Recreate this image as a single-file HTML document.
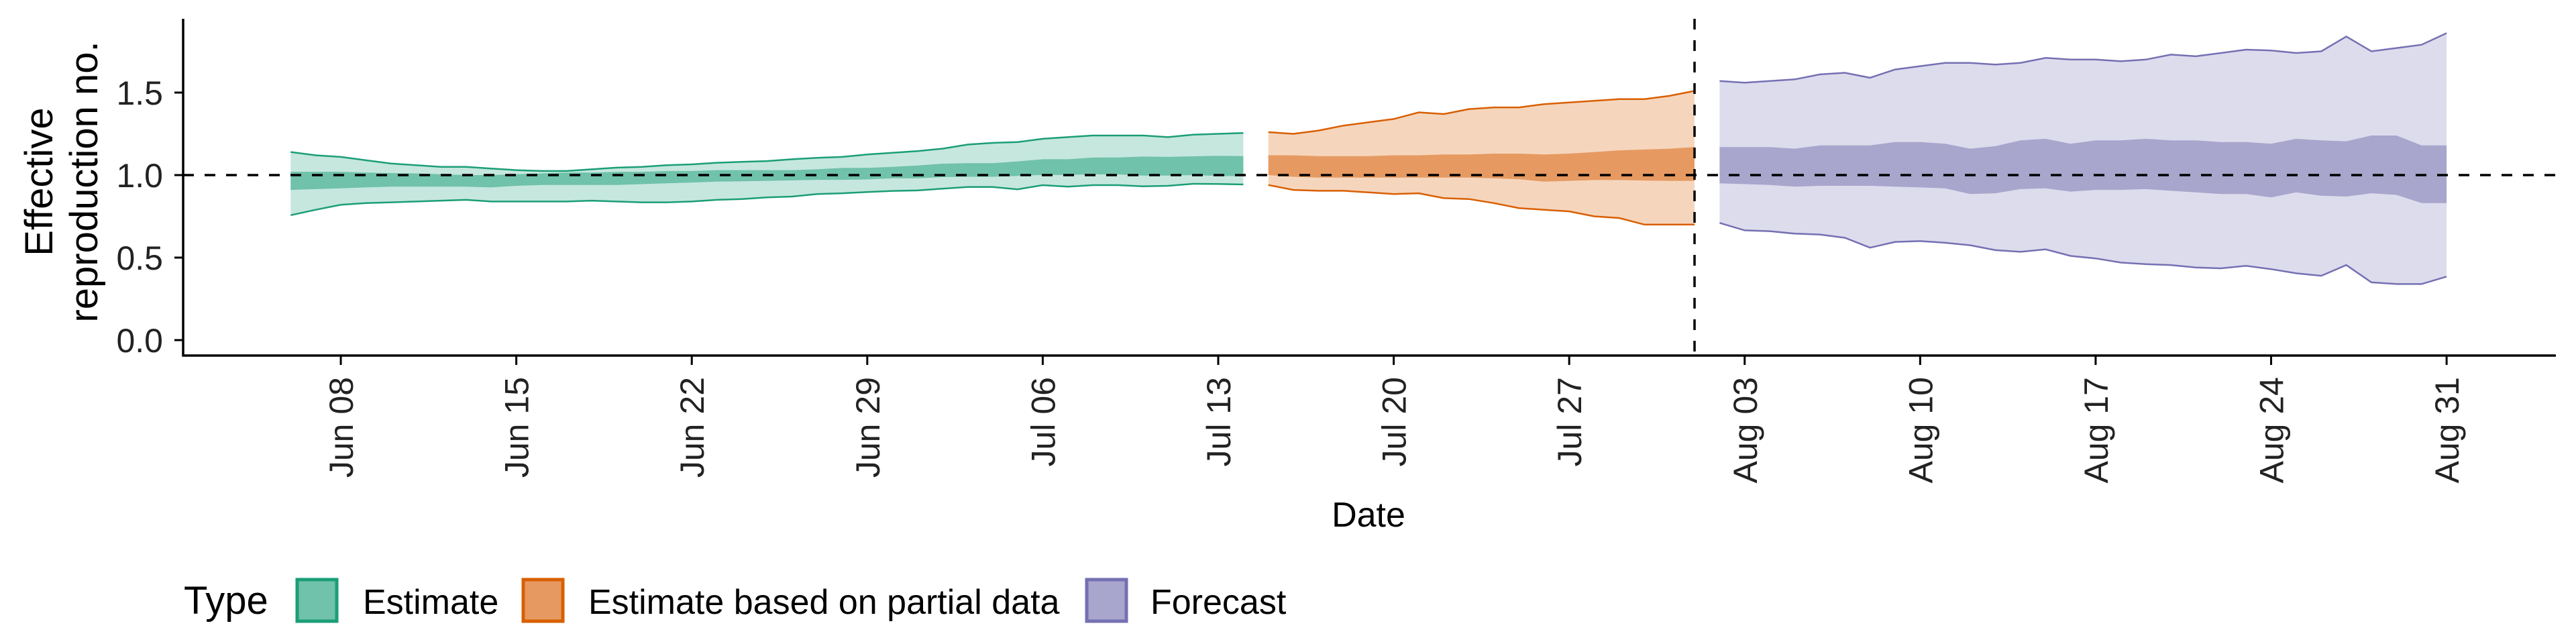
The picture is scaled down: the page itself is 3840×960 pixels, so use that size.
<!DOCTYPE html>
<html><head><meta charset="utf-8"><style>
html,body{margin:0;padding:0;background:#fff;}
svg{display:block;font-family:"Liberation Sans",Arial,sans-serif;}
</style></head><body>
<svg id="chart" width="3840" height="960" viewBox="0 0 3840 960" xmlns="http://www.w3.org/2000/svg">
<g id="bands"></g>
<g id="axes"></g>
<g font-size="58" fill="#000">
<text transform="translate(78,271) rotate(-90)" text-anchor="middle">Effective</text>
<text transform="translate(145,271) rotate(-90)" text-anchor="middle">reproduction no.</text>
</g>
<text x="2040" y="785" font-size="52" text-anchor="middle">Date</text>
<g font-size="52">
<text x="274" y="915" font-size="58">Type</text>
<g>
<rect x="443" y="864" width="59" height="62" fill="#70c2aa" stroke="#1b9e77" stroke-width="5"/>
<text x="541" y="915">Estimate</text></g>
<g>
<rect x="780" y="864" width="59" height="62" fill="#e69a61" stroke="#d95f02" stroke-width="5"/>
<text x="877" y="915">Estimate based on partial data</text></g>
<g>
<rect x="1620" y="864" width="59" height="62" fill="#a8a6cc" stroke="#7570b3" stroke-width="5"/>
<text x="1715" y="915">Forecast</text></g>
</g>
</svg>
<script>
// Day index 0 = Jun 06
const estStart = 0;
const estLo90 = [0.757,0.79,0.82,0.83,0.835,0.84,0.845,0.85,0.84,0.84,0.84,0.84,0.845,0.84,0.835,0.835,0.84,0.85,0.855,0.865,0.87,0.885,0.89,0.897,0.904,0.907,0.918,0.928,0.928,0.914,0.939,0.93,0.939,0.939,0.932,0.935,0.947,0.946,0.943];
const estHi90 = [1.14,1.12,1.11,1.09,1.07,1.06,1.05,1.05,1.04,1.03,1.025,1.025,1.035,1.045,1.05,1.06,1.065,1.075,1.08,1.085,1.096,1.105,1.11,1.125,1.135,1.145,1.16,1.185,1.195,1.2,1.22,1.23,1.24,1.24,1.24,1.23,1.245,1.25,1.255];
const estLo50 = [0.91,0.915,0.92,0.925,0.93,0.93,0.93,0.93,0.925,0.935,0.94,0.94,0.94,0.94,0.945,0.95,0.955,0.96,0.962,0.965,0.968,0.971,0.971,0.974,0.98,0.98,0.988,0.99,0.99,0.995,1.001,1.001,1.004,1.004,0.997,0.997,1.0,0.995,0.993];
const estHi50 = [1.02,1.02,1.02,1.015,1.012,1.01,1.005,1.0,1.0,1.005,1.01,1.015,1.015,1.02,1.02,1.025,1.025,1.03,1.03,1.03,1.03,1.035,1.044,1.044,1.05,1.058,1.069,1.072,1.072,1.083,1.096,1.096,1.106,1.107,1.112,1.11,1.114,1.117,1.115];
const partStart = 39;
const partLo90 = [0.94,0.91,0.905,0.905,0.895,0.885,0.89,0.86,0.855,0.83,0.80,0.79,0.78,0.75,0.74,0.70,0.70,0.70];
const partHi90 = [1.26,1.25,1.27,1.30,1.32,1.34,1.38,1.37,1.40,1.41,1.41,1.43,1.44,1.45,1.46,1.46,1.48,1.51];
const partLo50 = [1.0,0.99,0.985,0.985,0.985,0.985,0.985,0.985,0.985,0.98,0.975,0.96,0.965,0.97,0.97,0.967,0.965,0.965];
const partHi50 = [1.12,1.12,1.115,1.115,1.115,1.12,1.12,1.125,1.125,1.13,1.13,1.125,1.13,1.14,1.15,1.155,1.16,1.17];
const fcStart = 57;
const fcLo90 = [0.71,0.665,0.66,0.645,0.64,0.62,0.56,0.595,0.60,0.59,0.575,0.545,0.535,0.55,0.51,0.495,0.47,0.46,0.455,0.44,0.435,0.45,0.43,0.405,0.39,0.455,0.35,0.34,0.34,0.385];
const fcHi90 = [1.57,1.56,1.57,1.58,1.61,1.62,1.59,1.64,1.66,1.68,1.68,1.67,1.68,1.71,1.70,1.70,1.69,1.70,1.73,1.72,1.74,1.76,1.755,1.74,1.75,1.84,1.75,1.77,1.79,1.86];
const fcLo50 = [0.95,0.945,0.94,0.93,0.935,0.935,0.935,0.93,0.925,0.92,0.885,0.89,0.915,0.92,0.90,0.91,0.91,0.915,0.905,0.895,0.885,0.885,0.865,0.895,0.875,0.87,0.89,0.88,0.83,0.83];
const fcHi50 = [1.17,1.17,1.17,1.16,1.18,1.18,1.18,1.20,1.20,1.19,1.16,1.175,1.21,1.22,1.19,1.21,1.21,1.22,1.21,1.21,1.20,1.20,1.19,1.22,1.21,1.205,1.24,1.24,1.18,1.18];
const yTicks = [0.0,0.5,1.0,1.5];
const yTickLabels = ["0.0","0.5","1.0","1.5"];
const xTickDays = [2,9,16,23,30,37,44,51,58,65,72,79,86];
const xTickLabels = ["Jun 08","Jun 15","Jun 22","Jun 29","Jul 06","Jul 13","Jul 20","Jul 27","Aug 03","Aug 10","Aug 17","Aug 24","Aug 31"];
const refValue = 1.0;
const forecastDateDay = 56;

const NS = "http://www.w3.org/2000/svg";
const X0 = 273, X1 = 3810, YB = 530, YT = 28;
function xs(d){ return 433.3 + d * 37.37; }
function ys(v){ return 507 - 246 * v; }
function mk(tag, attrs, parent){ const e = document.createElementNS(NS, tag); for (const k in attrs) e.setAttribute(k, attrs[k]); parent.appendChild(e); return e; }
const bands = document.getElementById('bands');
const axes = document.getElementById('axes');

function drawBand(start, lo, hi, fill, name, stroke){
  let up = [], dn = [];
  for (let i = 0; i < lo.length; i++){ up.push(xs(start+i).toFixed(1)+','+ys(hi[i]).toFixed(1)); dn.push(xs(start+i).toFixed(1)+','+ys(lo[i]).toFixed(1)); }
  const p = mk('polygon', {points: up.concat(dn.slice().reverse()).join(' '), fill: fill}, bands);
  
  
  if (stroke){
    const l1 = mk('polyline', {points: up.join(' '), fill: 'none', stroke: stroke, 'stroke-width': 2.5}, bands);
    
    
    const l2 = mk('polyline', {points: dn.join(' '), fill: 'none', stroke: stroke, 'stroke-width': 2.5}, bands);
    
    
  }
}
drawBand(estStart, estLo90, estHi90, '#c6e7de', 'estimate-90-band', '#1b9e77');
drawBand(estStart, estLo50, estHi50, '#70c2aa', 'estimate-50-band');
drawBand(partStart, partLo90, partHi90, '#f5d6bd', 'partial-90-band', '#d95f02');
drawBand(partStart, partLo50, partHi50, '#e69a61', 'partial-50-band');
drawBand(fcStart, fcLo90, fcHi90, '#dddced', 'forecast-90-band', '#7570b3');
drawBand(fcStart, fcLo50, fcHi50, '#a8a6cc', 'forecast-50-band');

const hl = mk('line', {x1: X0, x2: X1, y1: ys(refValue), y2: ys(refValue), stroke: '#000', 'stroke-width': 3.5, 'stroke-dasharray': '16 16'}, axes);


const vl = mk('line', {x1: xs(forecastDateDay), x2: xs(forecastDateDay), y1: YT, y2: YB, stroke: '#000', 'stroke-width': 3.5, 'stroke-dasharray': '16 16'}, axes);



const ya = mk('line', {x1: X0, x2: X0, y1: YT, y2: YB + 1.5, stroke: '#000', 'stroke-width': 3.5}, axes);


const xa = mk('line', {x1: X0 - 1.5, x2: X1, y1: YB, y2: YB, stroke: '#000', 'stroke-width': 3.5}, axes);



yTicks.forEach((v, i) => {
  const t = mk('line', {x1: X0 - 13, x2: X0, y1: ys(v), y2: ys(v), stroke: '#000', 'stroke-width': 3}, axes);
  
  
  const tx = mk('text', {x: 243, y: ys(v) + 18, 'font-size': 50, 'text-anchor': 'end', fill: '#222'}, axes);
  tx.textContent = yTickLabels[i];
  
  
});
xTickDays.forEach((d, i) => {
  const x = xs(d);
  const t = mk('line', {x1: x, x2: x, y1: YB, y2: YB + 14, stroke: '#000', 'stroke-width': 3}, axes);
  
  
  const tx = mk('text', {transform: 'translate(' + (x + 18) + ',562) rotate(-90)', 'font-size': 50, 'text-anchor': 'end', fill: '#222'}, axes);
  tx.textContent = xTickLabels[i];
  
  
});
</script>
</body></html>
